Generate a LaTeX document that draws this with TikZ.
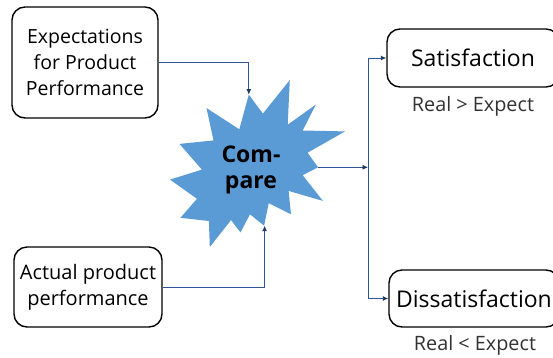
\documentclass[tikz,border=0pt]{standalone}
\usepackage{fontspec}
\setmainfont{Open Sans}
\usetikzlibrary{arrows.meta}
\definecolor{starblue}{RGB}{91,155,213}
\definecolor{linkblue}{RGB}{47,85,151}
\definecolor{tipblue}{RGB}{31,56,100}
\definecolor{txtgray}{RGB}{50,50,50}
\begin{document}
\begin{tikzpicture}[x=1pt,y=-1pt,
  box/.style={draw=black, line width=1.4pt, rounded corners=13pt, align=center, inner sep=0pt},
  conn/.style={draw=linkblue, line width=0.9pt, -{Latex[length=5.5pt,width=5pt,color=tipblue]}},
  note/.style={text=txtgray, font=\fontsize{19.8}{24}\selectfont, inner sep=0pt}]
\useasboundingbox (0,0) rectangle (553,357);
\clip (0,0) rectangle (553,357);
% boxes
\node[box, minimum width=146pt, minimum height=111pt, font=\fontsize{19.5}{26}\selectfont] (exp) at (85,62.5) {Expectations\\for Product\\Performance};
\node[box, minimum width=148pt, minimum height=80pt, font=\fontsize{20}{25.7}\selectfont] (act) at (88,287) {Actual product\\performance};
\node[box, minimum width=172pt, minimum height=58pt, font=\fontsize{23}{27}\selectfont] (sat) at (473,58) {Satisfaction};
\node[box, minimum width=170pt, minimum height=57pt, font=\fontsize{23}{27}\selectfont] (dis) at (474,298.5) {Dissatisfaction};
\node[note] (realgt) at (473,106) {Real > Expect};
\node[note] (reallt) at (475,345) {Real < Expect};
% explosion star
\fill[starblue] (262.9,113.6) -- (289.8,80) -- (287.7,124.7) -- (315.9,104.5) -- (302.7,130.5) -- (345,131.4)
 -- (307.6,152.7) -- (318,167.3) -- (302.7,175.2) -- (322.9,200.9) -- (288.6,190.9) -- (291,214.3)
 -- (268.7,203.2) -- (264.1,225.7) -- (250,214.3) -- (240.5,232.4) -- (231,220.1) -- (209.8,247)
 -- (208.9,221) -- (180.4,217.8) -- (197,198.8) -- (170,179.6) -- (201.9,169.6) -- (179.5,143.9)
 -- (213.5,140.4) -- (206.5,108) -- (239.3,129.3) -- (248.8,94.6) -- cycle;
\node[align=center, inner sep=0pt, font=\bfseries\fontsize{23}{26.7}\selectfont] (cmp) at (251,170) {Com-\\pare};
\coordinate (ctop) at (248.8,94.6);
\coordinate (cbot) at (264.6,225.7);
\coordinate (cright) at (318,167.3);
\coordinate (junc) at (368,167.3);
% connectors
\draw[conn] (exp.east) -| (ctop);
\draw[conn] (act.east) -| (cbot);
\draw[conn] (cright) -- (junc);
\draw[conn] (junc) |- (sat.west);
\draw[conn] (junc) |- (dis.west);
\end{tikzpicture}
\end{document}
